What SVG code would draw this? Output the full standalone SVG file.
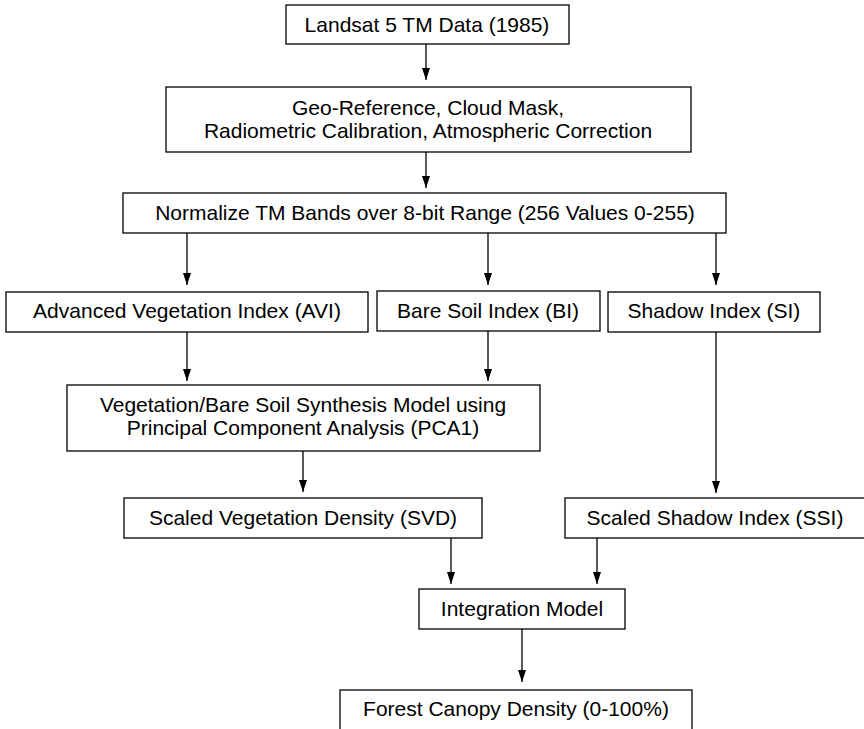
<svg xmlns="http://www.w3.org/2000/svg" width="864" height="729" viewBox="0 0 864 729">
<style>
rect{fill:#fff;stroke:#000;stroke-width:1.3}
text{font-family:"Liberation Sans",Arial,sans-serif;font-size:21px;fill:#000;text-anchor:middle}
.c line{stroke:#000;stroke-width:1.3}
</style>
<defs>
<marker id="ah" markerUnits="userSpaceOnUse" markerWidth="12" markerHeight="8" refX="12" refY="4" orient="auto">
<path d="M0,0 L12,4 L0,8 z" fill="#000"/>
</marker>
</defs>
<rect x="0" y="0" width="864" height="729" style="stroke:none"/>
<g class="c" id="connectors">
<line x1="426" y1="44" x2="426" y2="80" marker-end="url(#ah)"/>
<line x1="426" y1="152" x2="426" y2="188" marker-end="url(#ah)"/>
<line x1="187" y1="233" x2="187" y2="285" marker-end="url(#ah)"/>
<line x1="488" y1="233" x2="488" y2="285" marker-end="url(#ah)"/>
<line x1="716" y1="233" x2="716" y2="285" marker-end="url(#ah)"/>
<line x1="187" y1="332" x2="187" y2="381" marker-end="url(#ah)"/>
<line x1="488" y1="331" x2="488" y2="381" marker-end="url(#ah)"/>
<line x1="303" y1="451" x2="303" y2="492" marker-end="url(#ah)"/>
<line x1="716" y1="332" x2="716" y2="493" marker-end="url(#ah)"/>
<line x1="451" y1="538" x2="451" y2="584" marker-end="url(#ah)"/>
<line x1="597" y1="538" x2="597" y2="584" marker-end="url(#ah)"/>
<line x1="522" y1="629" x2="522" y2="682" marker-end="url(#ah)"/>
</g>
<g id="landsat"><rect x="286" y="5" width="283" height="39"/><text x="427" y="32">Landsat 5 TM Data (1985)</text></g>
<g id="georef"><rect x="166" y="87" width="525" height="65"/><text x="428" y="115">Geo-Reference, Cloud Mask,</text><text x="428" y="138">Radiometric Calibration, Atmospheric Correction</text></g>
<g id="normalize"><rect x="123" y="193" width="603" height="40"/><text x="425" y="220">Normalize TM Bands over 8-bit Range (256 Values 0-255)</text></g>
<g id="avi"><rect x="6" y="292" width="362" height="40"/><text x="187" y="318">Advanced Vegetation Index (AVI)</text></g>
<g id="bi"><rect x="377" y="291" width="223" height="40"/><text x="488" y="318">Bare Soil Index (BI)</text></g>
<g id="si"><rect x="608" y="292" width="212" height="40"/><text x="714" y="318">Shadow Index (SI)</text></g>
<g id="pca"><rect x="67" y="385" width="473" height="66"/><text x="303" y="412">Vegetation/Bare Soil Synthesis Model using</text><text x="303" y="435">Principal Component Analysis (PCA1)</text></g>
<g id="svd"><rect x="124" y="498" width="358" height="40"/><text x="303" y="525">Scaled Vegetation Density (SVD)</text></g>
<g id="ssi"><rect x="565" y="498" width="302" height="40"/><text x="715" y="525">Scaled Shadow Index (SSI)</text></g>
<g id="integration"><rect x="419" y="589" width="206" height="40"/><text x="522" y="616">Integration Model</text></g>
<g id="fcd"><rect x="340" y="690" width="352" height="45"/><text x="516" y="716">Forest Canopy Density (0-100%)</text></g>
</svg>
